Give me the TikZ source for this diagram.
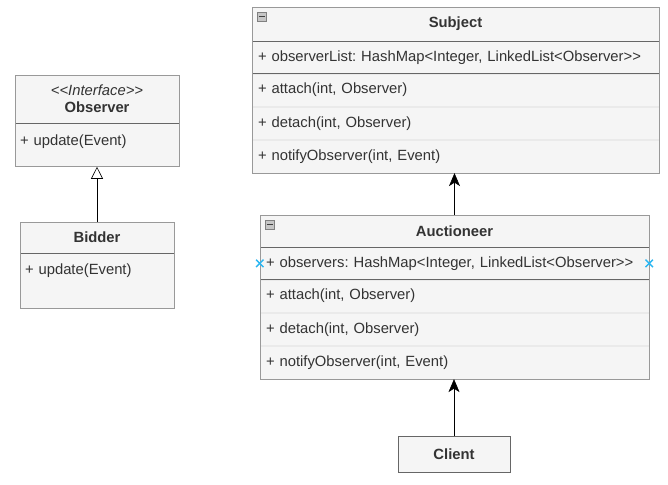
\documentclass[tikz,border=0pt]{standalone}
\usepackage{fontspec}
\setmainfont[Ligatures=NoCommon]{Liberation Sans}
\usepackage{xcolor}
\usetikzlibrary{arrows.meta, positioning, fit, shapes.misc}

\definecolor{clsfill}{HTML}{F5F5F5}
\definecolor{clsline}{HTML}{999999}
\definecolor{sepline}{HTML}{666666}
\definecolor{rowline}{HTML}{EAEAEA}
\definecolor{txt}{HTML}{333333}
\definecolor{pin}{HTML}{29B6F2}
\frenchspacing

\begin{document}
\begin{tikzpicture}[
  x=1pt, y=-1pt,
  base/.style={text=txt, font=\fontsize{14.8}{17}\selectfont, inner sep=0pt},
  hdr/.style={base, draw=sepline, fill=clsfill, font=\fontsize{14.8}{17}\selectfont\bfseries, align=center},
  attr/.style={base, draw=sepline, fill=clsfill, align=left, inner xsep=6pt, text width=#1, minimum height=32pt},
  meth/.style={base, draw=rowline, fill=clsfill, align=left, inner xsep=6pt, text width=#1, minimum height=32.7pt},
  body/.style={base, draw=sepline, fill=clsfill, align=left, inner xsep=5pt, text width=#1},
  frame/.style={draw=clsline, inner sep=0pt},
  minus/.style={draw=gray, fill=gray!45, minimum size=9.5pt, inner sep=0pt,
    path picture={\draw[black!75, line width=1.2pt]
      ([xshift=1.8pt]path picture bounding box.west) -- ([xshift=-1.8pt]path picture bounding box.east);}},
  sel/.style={cross out, draw=pin, line width=1.4pt, minimum size=6pt, inner sep=0pt},
  gen/.style={-{Triangle[open, length=12pt, width=12pt]}, semithick},
  assoc/.style={-{Stealth[length=13pt, width=11pt, inset=3.5pt]}, semithick}
]
\fill[white] (0,0) rectangle (668,484);
\useasboundingbox (0,0) rectangle (668,484);

% Subject
\node[hdr, minimum width=407pt, minimum height=34pt] (subhdr) at (455.5,24) {Subject};
\node[attr=395pt, below=0pt of subhdr] (subatt) {+ observerList: HashMap<Integer, LinkedList<Observer>{}>};
\node[meth=395pt, below=0pt of subatt] (subatc) {+ attach(int, Observer)};
\node[meth=395pt, below=0pt of subatc] (subdet) {+ detach(int, Observer)};
\node[meth=395pt, below=0pt of subdet] (subnot) {+ notifyObserver(int, Event)};
\node[frame, fit=(subhdr)(subnot)] (subject) {};
\node[minus] (subicon) at ([shift={(10,10)}]subhdr.north west) {};

% Auctioneer
\node[hdr, minimum width=389pt, minimum height=32pt] (auchdr) at (454.5,231) {Auctioneer};
\node[attr=377pt, below=0pt of auchdr] (aucatt) {+ observers: HashMap<Integer, LinkedList<Observer>{}>};
\node[meth=377pt, below=0pt of aucatt] (aucatc) {+ attach(int, Observer)};
\node[meth=377pt, below=0pt of aucatc] (aucdet) {+ detach(int, Observer)};
\node[meth=377pt, below=0pt of aucdet] (aucnot) {+ notifyObserver(int, Event)};
\node[frame, fit=(auchdr)(aucnot)] (auctioneer) {};
\node[minus] (aucicon) at ([shift={(10,10)}]auchdr.north west) {};
\node[sel] (selw) at (aucatt.west) {};
\node[sel] (sele) at (aucatt.east) {};

% Observer / Bidder
\node[hdr, minimum width=164pt, minimum height=48pt] (obshdr) at (97,99)
  {{\normalfont\itshape <{}<Interface>{}>}\\Observer};
\node[body=154pt, below=0pt of obshdr, text height=22pt, text depth=21pt] (obsbody) {+ update(Event)};
\node[frame, fit=(obshdr)(obsbody)] (observer) {};

\node[hdr, minimum width=154pt, minimum height=31pt] (bidhdr) at (97,237.5) {Bidder};
\node[body=144pt, below=0pt of bidhdr, text height=21pt, text depth=34pt] (bidbody) {+ update(Event)};
\node[frame, fit=(bidhdr)(bidbody)] (bidder) {};

% Client
\node[hdr, minimum width=112pt, minimum height=36pt] (client) at (454,454) {Client};

\draw[gen] (bidhdr.north) -- (bidhdr.north |- observer.south);
\draw[assoc] (auchdr.north) -- (auchdr.north |- subject.south);
\draw[assoc] (client.north) -- (client.north |- auctioneer.south);
\end{tikzpicture}
\end{document}
